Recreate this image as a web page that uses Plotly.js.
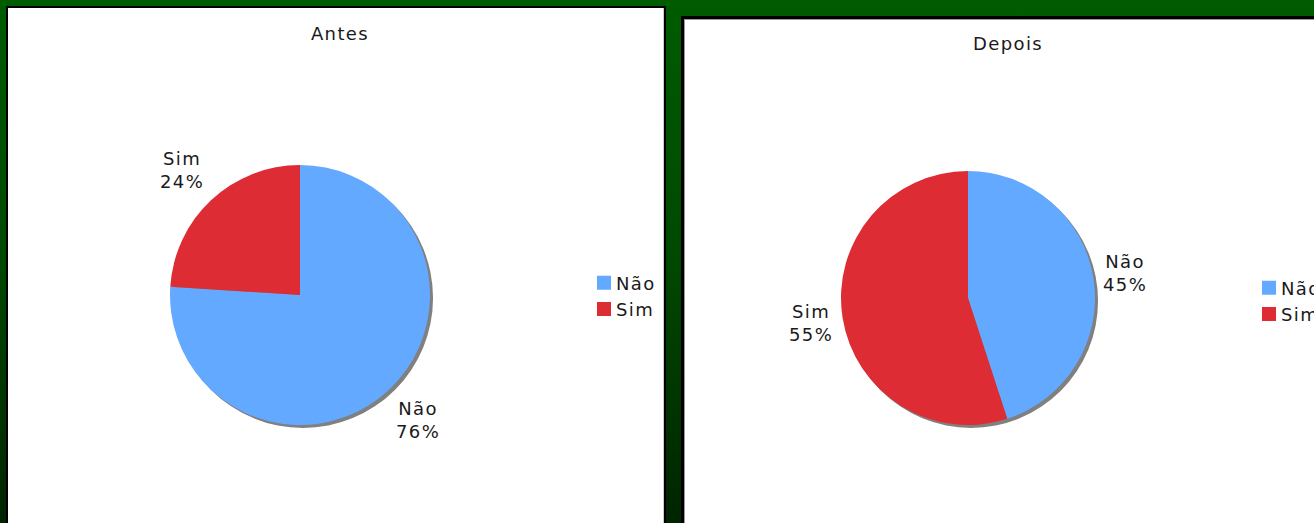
<!DOCTYPE html>
<html>
<head>
<meta charset="utf-8">
<script src="https://cdn.plot.ly/plotly-3.0.1.min.js"></script>
<style>
html,body{margin:0;padding:0;width:1314px;height:523px;overflow:hidden;}
body{background:linear-gradient(to bottom,#005c00 0%,#004800 50%,#002400 100%);position:relative;font-family:"DejaVu Sans";}
.panel{position:absolute;background:#fff;border:2px solid #000;}
#p1{left:6px;top:6px;width:656px;height:530px;box-shadow:inset -1px 0 0 #ccc;}
#p2{left:681px;top:16px;width:650px;height:520px;border-width:3px;box-shadow:inset 1px 1px 0 #999;}
text{letter-spacing:1.4px;}
.legendpie{transform:translate(28px,0px) scale(1.17);}
</style>
</head>
<body>
<div id="p1" class="panel"></div>
<div id="p2" class="panel"></div>
<script>
const labels = ['Não', 'Sim'];
const antesValues = [76, 24];
const depoisValues = [45, 55];
const titles = ['Antes', 'Depois'];
const colors = ['#63a9ff', '#dd2c33'];
const shadowValues = [1];

const FONT = {family: 'DejaVu Sans', size: 18, color: '#1a1a1a'};

function px2dom(cx, cy, r, W, H) {
  return {
    x: [(cx - r) / W, (cx + r) / W],
    y: [(H - cy - r) / H, (H - cy + r) / H]
  };
}

function labelAnnotations(values, W, H, cx, cy, r) {
  const sum = values.reduce((a, b) => a + b, 0);
  let cum = 0;
  const hw = 23, hh = 24, gap = 9;
  return values.map((v, i) => {
    const th = 2 * Math.PI * (cum + v / 2) / sum;
    cum += v;
    const ux = Math.sin(th), uy = -Math.cos(th);
    const ext = Math.min(Math.abs(ux) > 1e-6 ? hw / Math.abs(ux) : 1e9,
                         Math.abs(uy) > 1e-6 ? hh / Math.abs(uy) : 1e9);
    const d = r + gap + ext;
    return {
      xref: 'paper', yref: 'paper',
      x: (cx + d * ux) / W, y: 1 - (cy + d * uy) / H,
      xanchor: 'center', yanchor: 'middle', showarrow: false,
      text: labels[i] + '<br>' + Math.round(v / sum * 100) + '%',
      font: FONT, align: 'center'
    };
  });
}

function draw(id, values, title, W, H, cx, cy, r, tx, ty, lx, ly) {
  const d = px2dom(cx, cy, r, W, H);
  const ds = px2dom(cx + 3, cy + 3, r, W, H);
  const shadow = {
    type: 'pie', values: shadowValues, labels: ['s'], sort: false,
    domain: ds, marker: {colors: ['#808080'], line: {width: 0}},
    textinfo: 'none', hoverinfo: 'skip', showlegend: false
  };
  const pie = {
    type: 'pie', values: values, labels: labels, sort: false,
    direction: 'clockwise', rotation: 0,
    domain: d, marker: {colors: colors, line: {width: 0}},
    textinfo: 'none', hoverinfo: 'skip'
  };
  const layout = {
    width: W, height: H,
    margin: {l: 0, r: 0, t: 0, b: 0},
    paper_bgcolor: 'rgba(0,0,0,0)',
    font: FONT,
    title: {text: title, x: tx / W, xanchor: 'center', y: 1 - ty / H, yanchor: 'middle', font: FONT},
    legend: {x: lx / W, xanchor: 'left', y: 1 - ly / H, yanchor: 'middle',
             font: FONT, bgcolor: 'rgba(0,0,0,0)', traceorder: 'normal'},
    annotations: labelAnnotations(values, W, H, cx, cy, r),
    showlegend: true
  };
  Plotly.newPlot(id, [shadow, pie], layout, {staticPlot: true, displayModeBar: false});
}

draw('p1', antesValues, titles[0], 656, 530, 292, 287, 130, 332, 26, 568, 288);
draw('p2', depoisValues, titles[1], 650, 520, 284, 279, 127, 324, 25, 557, 282);
</script>
</body>
</html>
